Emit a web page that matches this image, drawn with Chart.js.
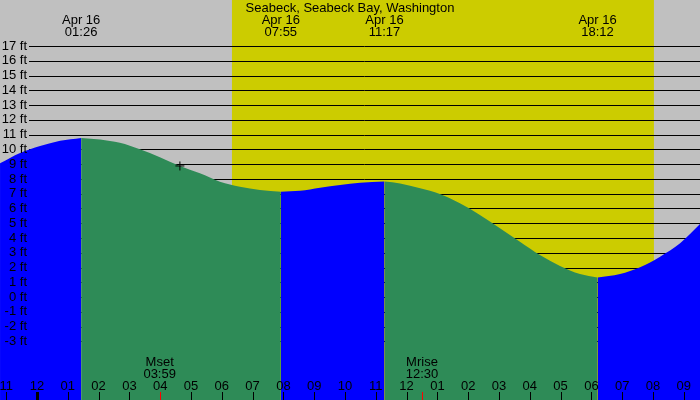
<!DOCTYPE html>
<html>
<head>
<meta charset="utf-8">
<script src="https://cdn.jsdelivr.net/npm/chart.js@4"></script>
<style>
  body { margin: 0; background: #c0c0c0; }
  canvas { display: block; }
</style>
</head>
<body>
<canvas id="tideChart" width="700" height="400"></canvas>
<script>
// tide curve (hours from midnight, feet)
const tideHours = [-1.20, -0.55, 0.10, 0.75, 1.433, 2.05, 2.69, 3.34, 3.99, 4.64, 5.29, 5.94, 6.59, 7.24, 7.917,
  8.54, 9.19, 9.84, 10.49, 11.283, 11.79, 12.44, 13.08, 13.73, 14.38, 15.03, 15.68, 16.33, 16.98, 17.63, 18.2,
  18.93, 19.58, 20.23, 20.88, 21.53];
const tideFeet = [9.06, 9.76, 10.23, 10.59, 10.78, 10.68, 10.45, 10.01, 9.47, 8.88, 8.38, 7.81, 7.47, 7.25, 7.14,
  7.20, 7.41, 7.59, 7.75, 7.83, 7.70, 7.37, 6.98, 6.35, 5.56, 4.66, 3.75, 2.85, 2.11, 1.56, 1.33,
  1.56, 2.02, 2.74, 3.64, 4.95];

const extremeHours = [1.433, 7.917, 11.283, 18.2];
const extremeTimes = ['01:26', '07:55', '11:17', '18:12'];
const dateLabel = 'Apr 16';
const title = 'Seabeck, Seabeck Bay, Washington';

const hourTicks = [-1, 0, 1, 2, 3, 4, 5, 6, 7, 8, 9, 10, 11, 12, 13, 14, 15, 16, 17, 18, 19, 20, 21];
const hourLabels = ['11', '12', '01', '02', '03', '04', '05', '06', '07', '08', '09', '10', '11', '12',
  '01', '02', '03', '04', '05', '06', '07', '08', '09'];

const feetTicks = [-3, -2, -1, 0, 1, 2, 3, 4, 5, 6, 7, 8, 9, 10, 11, 12, 13, 14, 15, 16, 17];

const daylight = [6.33, 20.03];
const moonHours = [3.983, 12.5];
const moonNames = ['Mset', 'Mrise'];
const moonTimes = ['03:59', '12:30'];

const nowHour = 4.64;
const nowFeet = 8.88;

const BLUE = '#0000ff';
const GREEN = '#2e8b57';
const GRAY = '#c0c0c0';
const YELLOW = '#cccc00';
const FONT = '13px "Liberation Sans", Arial, sans-serif';

// split curve into rising / falling pieces at each high or low
let cuts = [0];
extremeHours.forEach(h => cuts.push(tideHours.indexOf(h)));
cuts.push(tideHours.length - 1);

let datasets = [{
  type: 'scatter',
  data: [{ x: nowHour, y: nowFeet }],
  pointStyle: 'cross',
  radius: 4.5,
  borderColor: '#000',
  borderWidth: 1,
  order: 0
}];

for (let i = 0; i < cuts.length - 1; i++) {
  let a = cuts[i], b = cuts[i + 1];
  let pts = [];
  for (let k = a; k <= b; k++) pts.push({ x: tideHours[k], y: tideFeet[k] });
  let rising = tideFeet[b] > tideFeet[a];
  datasets.push({
    data: pts,
    fill: 'start',
    backgroundColor: rising ? BLUE : GREEN,
    borderWidth: 0,
    pointRadius: 0,
    cubicInterpolationMode: 'monotone',
    order: 1
  });
}

const tidePlugin = {
  id: 'tideDecor',
  beforeDatasetsDraw(chart) {
    const c = chart.ctx;
    const xs = chart.scales.x, ys = chart.scales.y;
    c.save();
    c.fillStyle = GRAY;
    c.fillRect(0, 0, chart.width, chart.height);
    let x1 = xs.getPixelForValue(daylight[0]), x2 = xs.getPixelForValue(daylight[1]);
    c.fillStyle = YELLOW;
    c.fillRect(x1, 0, x2 - x1, chart.height);
    c.strokeStyle = '#000';
    c.lineWidth = 1;
    feetTicks.forEach(f => {
      let y = Math.round(ys.getPixelForValue(f)) + 0.5;
      c.beginPath();
      c.moveTo(29, y);
      c.lineTo(chart.width, y);
      c.stroke();
    });
    c.restore();
  },
  afterDatasetsDraw(chart) {
    const c = chart.ctx;
    const xs = chart.scales.x, ys = chart.scales.y;
    c.save();
    c.font = FONT;
    c.fillStyle = '#000';
    c.textBaseline = 'middle';

    // feet labels
    c.textAlign = 'right';
    feetTicks.forEach(f => {
      c.fillText(f + ' ft', 27, ys.getPixelForValue(f));
    });

    c.textAlign = 'center';
    c.fillText(title, 350, 8);
    extremeHours.forEach((h, i) => {
      let x = xs.getPixelForValue(h);
      c.fillText(dateLabel, x, 20);
      c.fillText(extremeTimes[i], x, 32);
    });

    moonHours.forEach((h, i) => {
      let x = xs.getPixelForValue(h);
      c.fillText(moonNames[i], x, 362);
      c.fillText(moonTimes[i], x, 374);
    });

    // hour axis
    hourTicks.forEach((h, i) => {
      let x = xs.getPixelForValue(h);
      c.fillText(hourLabels[i], x, 386);
      c.fillStyle = '#000';
      if (h === 0) c.fillRect(Math.round(x) - 1, 392, 3, 8);
      else c.fillRect(Math.round(x), 392, 1, 8);
    });
    c.fillStyle = '#ff0000';
    moonHours.forEach(h => {
      c.fillRect(Math.round(xs.getPixelForValue(h)), 392, 1, 8);
    });
    c.restore();
  }
};

new Chart(document.getElementById('tideChart').getContext('2d'), {
  type: 'line',
  data: { datasets: datasets },
  options: {
    responsive: false,
    animation: false,
    layout: { padding: 0, autoPadding: false },
    scales: {
      x: { type: 'linear', min: -1.201, max: 21.526, display: false },
      y: { type: 'linear', min: -6.97, max: 20.12, display: false }
    },
    plugins: {
      legend: { display: false },
      tooltip: { enabled: false }
    }
  },
  plugins: [tidePlugin]
});
</script>
</body>
</html>
